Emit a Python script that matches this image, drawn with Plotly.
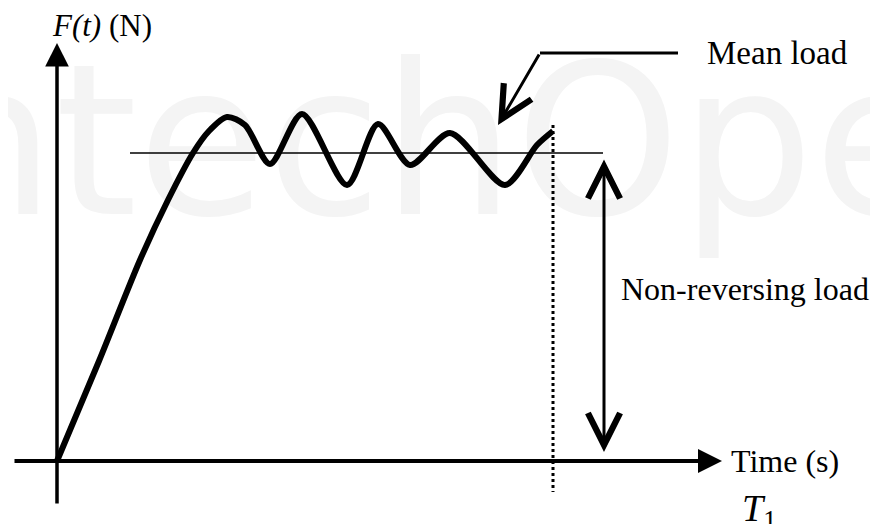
import plotly.graph_objects as go

# load history (time and force in arbitrary units)
t_curve = [0.0, 0.42, 0.83, 1.11, 1.36, 1.52, 1.70, 1.88, 2.13, 2.45, 2.90, 3.21, 3.53, 3.93, 4.48, 4.80, 4.96]
f_curve = [0.0, 1.00, 2.01, 2.61, 3.08, 3.30, 3.44, 3.36, 2.97, 3.47, 2.76, 3.37, 2.96, 3.28, 2.76, 3.16, 3.30]

mean_level = 3.08
mean_span = [0.73, 5.46]
t1 = 4.96
t1_span = [3.36, -0.31]
nonrev_x = 5.47

serif = "Liberation Serif"

fig = go.Figure()

# faint watermark behind everything
fig.add_trace(go.Scatter(
    x=[4.11], y=[3.0], mode="text", text=["IntechOpen"],
    textfont=dict(family="DejaVu Sans", size=210, color="#f4f4f4"),
    hoverinfo="skip", showlegend=False, cliponaxis=False))

# mean load line
fig.add_trace(go.Scatter(
    x=mean_span, y=[mean_level, mean_level], mode="lines",
    line=dict(color="black", width=1.5), showlegend=False))

# dotted line at T1
fig.add_trace(go.Scatter(
    x=[t1, t1], y=t1_span, mode="lines",
    line=dict(color="black", width=3, dash="dot"), showlegend=False))

# the force curve
fig.add_trace(go.Scatter(
    x=t_curve, y=f_curve, mode="lines",
    line=dict(color="black", width=6, shape="spline", smoothing=0.8),
    showlegend=False))

# leader for "Mean load"
fig.add_trace(go.Scatter(
    x=[6.21, 4.83], y=[4.08, 4.08], mode="lines",
    line=dict(color="black", width=3), showlegend=False))

arrows = [
    # x axis
    dict(x=6.65, y=0, ax=-0.44, ay=0, arrowhead=2, arrowwidth=4, arrowsize=1.2, arrowside="end"),
    # y axis
    dict(x=0, y=4.18, ax=0, ay=-0.44, arrowhead=2, arrowwidth=3.5, arrowsize=1.35, arrowside="end"),
    # mean load pointer
    dict(x=4.41, y=3.36, ax=4.83, ay=4.08, arrowhead=5, arrowwidth=3, arrowsize=2.1, arrowside="end"),
    # non-reversing load double arrow
    dict(x=nonrev_x, y=0.09, ax=nonrev_x, ay=3.03, arrowhead=5, arrowwidth=3, arrowsize=2.1,
         arrowside="end+start"),
]
for a in arrows:
    fig.add_annotation(text="", showarrow=True, xref="x", yref="y", axref="x", ayref="y",
                       arrowcolor="black", **a)

labels = [
    dict(x=-0.07, y=4.36, text="<i>F(t)</i> (N)", size=31),
    dict(x=6.48, y=4.08, text="Mean load", size=33),
    dict(x=5.62, y=1.72, text="Non-reversing load", size=32),
    dict(x=6.72, y=0.0, text="Time (s)", size=32),
    dict(x=6.83, y=-0.50, text="<i>T</i><sub>1</sub>", size=38),
]
for lb in labels:
    fig.add_annotation(x=lb["x"], y=lb["y"], text=lb["text"], showarrow=False,
                       xanchor="left", yanchor="middle",
                       font=dict(family=serif, size=lb["size"], color="black"))

# the page body has an 8px margin, so the ranges are shifted to keep the origin in place
fig.update_layout(
    width=878, height=524,
    margin=dict(l=0, r=0, t=0, b=0),
    paper_bgcolor="white", plot_bgcolor="white",
    xaxis=dict(range=[-0.49, 8.29], visible=False, fixedrange=True),
    yaxis=dict(range=[-0.71, 4.53], visible=False, fixedrange=True),
    showlegend=False,
)

fig.write_html("out.html")
